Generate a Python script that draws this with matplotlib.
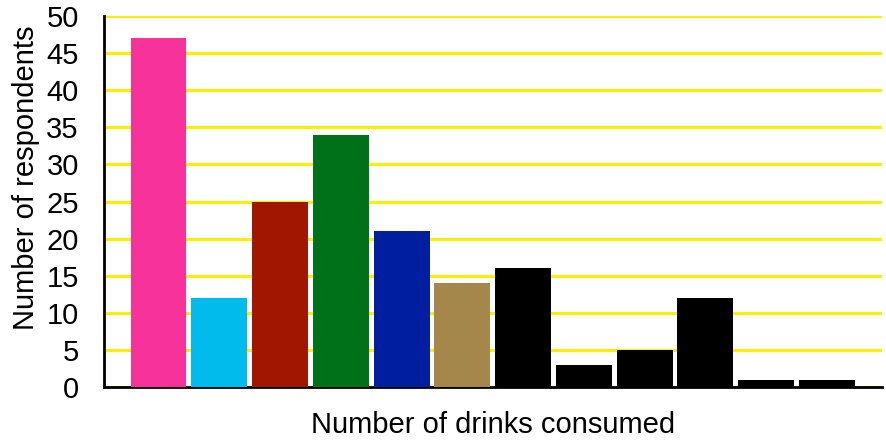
import matplotlib
matplotlib.use("Agg")
import matplotlib.pyplot as plt

# Bar data
drinks = list(range(12))
respondents = [47, 12, 25, 34, 21, 14, 16, 3, 5, 12, 1, 1]
bar_colors = ["#F7329A", "#00BBEC", "#A11600", "#007119", "#001EA0", "#A5864B",
              "#000000", "#000000", "#000000", "#000000", "#000000", "#000000"]
y_ticks = [0, 5, 10, 15, 20, 25, 30, 35, 40, 45, 50]

plt.rcParams['font.family'] = ['Liberation Sans', 'DejaVu Sans']

fig = plt.figure(figsize=(8.87, 4.44), dpi=100)
ax = fig.add_axes([0.117, 0.128, 0.877, 0.836])

ax.bar(drinks, respondents, width=0.92, color=bar_colors, zorder=3)

ax.set_xlim(-0.9, 11.9)
ax.set_ylim(0, 50)
ax.set_yticks(y_ticks)
ax.set_xticks([])
ax.tick_params(axis='y', length=0, labelsize=21, pad=18)

# Yellow horizontal gridlines
ax.yaxis.grid(True, color="#FFEE00", linewidth=2.2, zorder=0)
ax.set_axisbelow(True)

ax.spines['right'].set_visible(False)
ax.spines['top'].set_visible(False)
ax.spines['left'].set_linewidth(2)
ax.spines['bottom'].set_linewidth(2)

ax.set_ylabel("Number of respondents", fontsize=21)
# label sits a bit above the axis centre in the original
ax.yaxis.set_label_coords(-0.082, 0.563)
ax.set_xlabel("Number of drinks consumed", fontsize=21, labelpad=17)

fig.savefig("out.png", dpi=100)
